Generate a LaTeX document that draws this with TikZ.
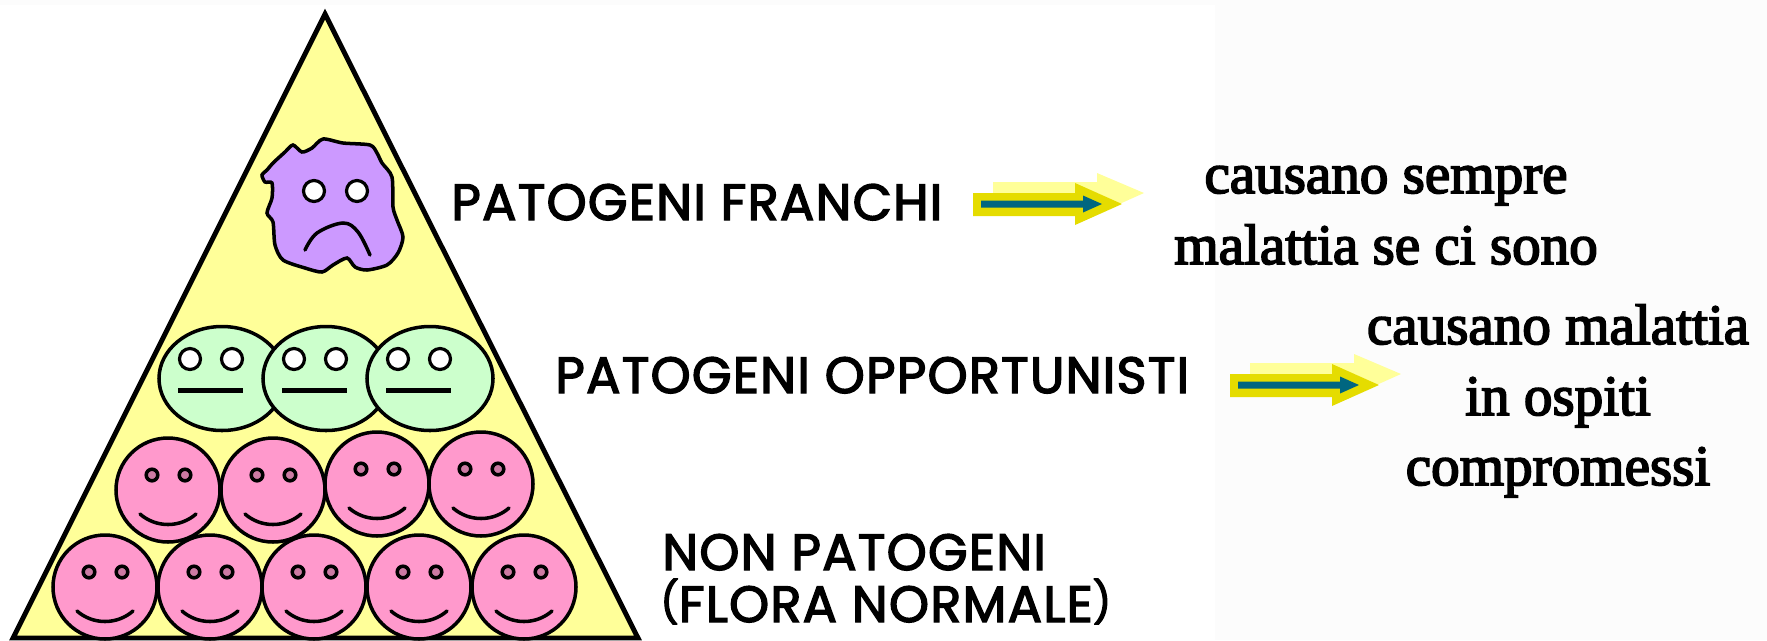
\documentclass[tikz,border=0pt]{standalone}
\usepackage{fontspec}
\newfontfamily\causefont[FakeBold=3]{Liberation Serif}
\newfontfamily\capsfont[LetterSpace=2.5, FakeBold=2.8]{Poppins}
\newcommand{\smallparen}[1]{\raisebox{3pt}{\scalebox{.8}{#1}}}
\definecolor{pyramidyellow}{HTML}{FFFF99}
\definecolor{franchipurple}{HTML}{CC99FF}
\definecolor{opportgreen}{HTML}{CCFFCC}
\definecolor{florapink}{HTML}{FF99CC}
\definecolor{arrowyellow}{HTML}{E5DC00}
\definecolor{arrowteal}{HTML}{006680}
\definecolor{paper}{HTML}{FCFCFC}
\tikzset{
  capslabel/.style={anchor=base west, inner sep=0pt, font=\capsfont\fontsize{29}{29}\selectfont},
  causelabel/.style={anchor=base, inner sep=0pt, font=\causefont\fontsize{32.5}{40}\selectfont},
  outline/.style={draw=black, line width=2pt},
  eyering/.style={draw=black, line width=1.8pt, fill=white},
  mouthline/.style={draw=black, line width=2pt, line cap=round},
  % pink face
  smile/.pic={
    \draw[outline, fill=florapink] (0,0) circle (52);
    \draw[outline, fill=florapink!80!black] (-16,-15) circle (5.8);
    \draw[outline, fill=florapink!80!black] (17,-15) circle (5.8);
    \draw[mouthline] (-28,24) .. controls (-12,38) and (12,38) .. (28,24);
  },
  % green face
  flat/.pic={
    \draw[outline, fill=opportgreen] (0,0) ellipse (63 and 52);
    \draw[eyering] (-32,-19.5) circle (10.5);
    \draw[eyering] (10,-19.5) circle (10.5);
    \draw[mouthline, line width=2.4pt, line cap=butt] (-44,12) -- (21,12);
  },
  % double block arrow
  fatarrow/.pic={
    \fill[pyramidyellow] (20,-22) -- (124,-22) -- (124,-31) -- (171,-11) -- (124,10) -- (124,1) -- (20,1) -- cycle;
    \fill[arrowyellow] (0,-11) -- (102,-11) -- (102,-21) -- (149,0) -- (102,21) -- (102,12) -- (0,12) -- cycle;
    \fill[arrowteal] (8,-3.5) -- (110,-3.5) -- (110,-8.5) -- (129,0) -- (110,8.5) -- (110,3.5) -- (8,3.5) -- cycle;
  },
}
\begin{document}
\begin{tikzpicture}[x=0.02cm, y=-0.02cm]
  \useasboundingbox (0,0) rectangle (1767,640);
% Backdrop
  \fill[paper] (1215,0) rectangle (1767,640);
  \fill[paper] (0,0) rectangle (1767,5);
% Pyramid
  \draw[line width=2.8pt, fill=pyramidyellow, line join=miter] (325,14) -- (638,638) -- (13,638) -- cycle;
% Top face
  \draw[outline, fill=franchipurple] plot[smooth cycle, tension=0.45] coordinates {
    (267,170) (273,163) (285,152) (293,145) (302,152) (312,148) (323,139) (343,143)
    (370,145) (377,153) (382,163) (392,177) (393,207) (397,220) (403,237) (398,253)
    (387,265) (367,270) (355,267) (347,258) (333,265) (322,272) (305,268) (283,260)
    (275,245) (273,222) (267,213) (272,198) (272,183) (265,182) (262,175)};
  \draw[eyering] (314,191) circle (10.5);
  \draw[eyering] (357,191) circle (10.5);
  \draw[mouthline] plot[smooth, tension=0.6] coordinates {(305,250) (317,233) (343,223) (358,232) (370,255)};
% Green row
  \pic (g1) at (222,378.5) {flat};
  \pic (g2) at (326,378.5) {flat};
  \pic (g3) at (430,378.5) {flat};
% Pink rows
  \pic (p1) at (168,490) {smile};
  \pic (p2) at (273,490) {smile};
  \pic (p3) at (377,484) {smile};
  \pic (p4) at (481,484) {smile};
  \pic (q1) at (105,587) {smile};
  \pic (q2) at (210,587) {smile};
  \pic (q3) at (314,587) {smile};
  \pic (q4) at (419,587) {smile};
  \pic (q5) at (524,587) {smile};
% Labels
  \node[capslabel] (franchi) at (451,220) {PATOGENI FRANCHI};
  \node[capslabel] (opport) at (555,393) {PATOGENI OPPORTUNISTI};
  \node[capslabel] (nonpat) at (662,570) {NON PATOGENI};
  \node[capslabel] (flora) at (660,622) {\smallparen{(}FLORA NORMALE\smallparen{)}};
% Arrows
  \pic (arrA) at (973,204) {fatarrow};
  \pic (arrB) at (1230,385) {fatarrow};
% Right hand text
  \node[causelabel] (sempre) at (1386,193) {causano sempre};
  \node[causelabel] (sono) at (1386,264) {malattia se ci sono};
  \node[causelabel] (causano) at (1558,344) {causano malattia};
  \node[causelabel] (ospiti) at (1558,415) {in ospiti};
  \node[causelabel] (comp) at (1558,485) {compromessi};
\end{tikzpicture}
\end{document}
